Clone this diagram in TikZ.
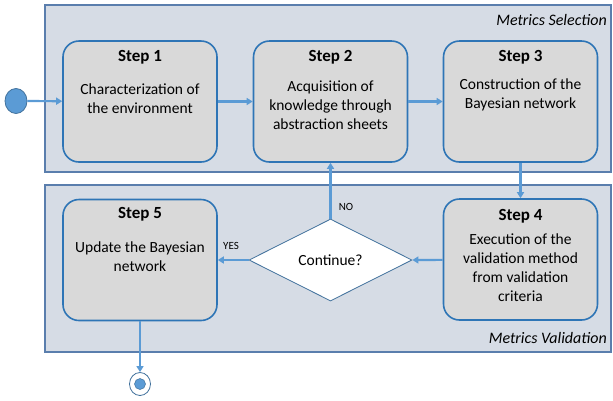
\documentclass[tikz,border=0pt]{standalone}
\usepackage{fontspec}
\setmainfont{Carlito}
\usetikzlibrary{arrows.meta,shapes.geometric}
\definecolor{panelfill}{HTML}{D6DCE5}
\definecolor{panelline}{HTML}{5A7EAD}
\definecolor{boxfill}{HTML}{D9D9D9}
\definecolor{boxline}{HTML}{2E75B6}
\definecolor{arrowc}{HTML}{5B9BD5}
\definecolor{darkline}{HTML}{41719C}
\begin{document}
\begin{tikzpicture}[x=1pt,y=-1pt,
  panel/.style={draw=panelline,fill=panelfill,line width=1.5pt,rectangle,inner sep=0pt},
  stepbox/.style={draw=boxline,fill=boxfill,line width=1.6pt,rectangle,rounded corners=16pt,minimum width=154pt,minimum height=121pt,inner sep=0pt},
  steptitle/.style={font=\fontsize{17}{20}\selectfont\bfseries,inner sep=0pt},
  stepbody/.style={font=\fontsize{15.5}{19}\selectfont,align=center,inner sep=0pt,anchor=north},
  paneltitle/.style={font=\fontsize{16}{19}\selectfont\itshape,inner sep=0pt,anchor=east},
  flow/.style={draw=arrowc,line width=2.2pt,-{Triangle[width=7pt,length=6pt]}},
  small/.style={font=\fontsize{11}{13}\selectfont,inner sep=0pt}
]
\useasboundingbox (0,0) rectangle (613,400);
% panels
\node[panel,minimum width=566pt,minimum height=167pt] (top) at (328,88.5) {};
\node[panel,minimum width=566pt,minimum height=167pt] (bot) at (328,268.5) {};
\node[paneltitle] (ttop) at (607,20) {Metrics Selection};
\node[paneltitle] (tbot) at (607,338) {Metrics Validation};
% step boxes
\node[stepbox] (s1) at (140,101.5) {};
\node[stepbox] (s2) at (330.5,101.5) {};
\node[stepbox] (s3) at (520.5,101.5) {};
\node[stepbox] (s4) at (520.5,259.5) {};
\node[stepbox] (s5) at (140,260) {};
% titles
\node[steptitle] (t1) at (140,57) {Step 1};
\node[steptitle] (t2) at (330.5,57) {Step 2};
\node[steptitle] (t3) at (520.5,57) {Step 3};
\node[steptitle] (t4) at (520.5,216) {Step 4};
\node[steptitle] (t5) at (140,214) {Step 5};
% bodies
\node[stepbody] (b1) at (140,84) {Characterization of\\the environment};
\node[stepbody] (b2) at (330.5,81) {Acquisition of\\knowledge through\\abstraction sheets};
\node[stepbody] (b3) at (520.5,79) {Construction of the\\Bayesian network};
\node[stepbody] (b4) at (520.5,234) {Execution of the\\validation method\\from validation\\criteria};
\node[stepbody] (b5) at (140,242) {Update the Bayesian\\network};
% decision
\node[diamond,draw=darkline,fill=white,line width=0.8pt,minimum width=163pt,minimum height=82pt,inner sep=0pt,aspect=2,font=\fontsize{15.5}{19}\selectfont] (dec) at (330.5,260) {Continue?};
% start / end
\node[ellipse,draw=darkline,fill=arrowc,line width=0.8pt,minimum width=22pt,minimum height=25pt,inner sep=0pt] (start) at (16,101) {};
\node[ellipse,draw=darkline,fill=white,line width=0.8pt,minimum width=21pt,minimum height=23pt,inner sep=0pt] (end) at (140,384) {};
\node[circle,fill=arrowc,draw=darkline,line width=0.5pt,minimum size=11pt,inner sep=0pt] (endin) at (end.center) {};
% arrows
\draw[flow] (start) -- (s1);
\draw[flow] (s1) -- (s2);
\draw[flow] (s2) -- (s3);
\draw[flow] (s3) -- (s4);
\draw[flow] (s4) -- (dec.east);
\draw[flow] (dec.west) -- (s5);
\draw[flow] (dec.north) -- (s2);
\draw[flow] (s5) -- (end);
% labels
\node[small] (no) at (346,207) {NO};
\node[small] (yes) at (231,246) {YES};
\end{tikzpicture}
\end{document}
